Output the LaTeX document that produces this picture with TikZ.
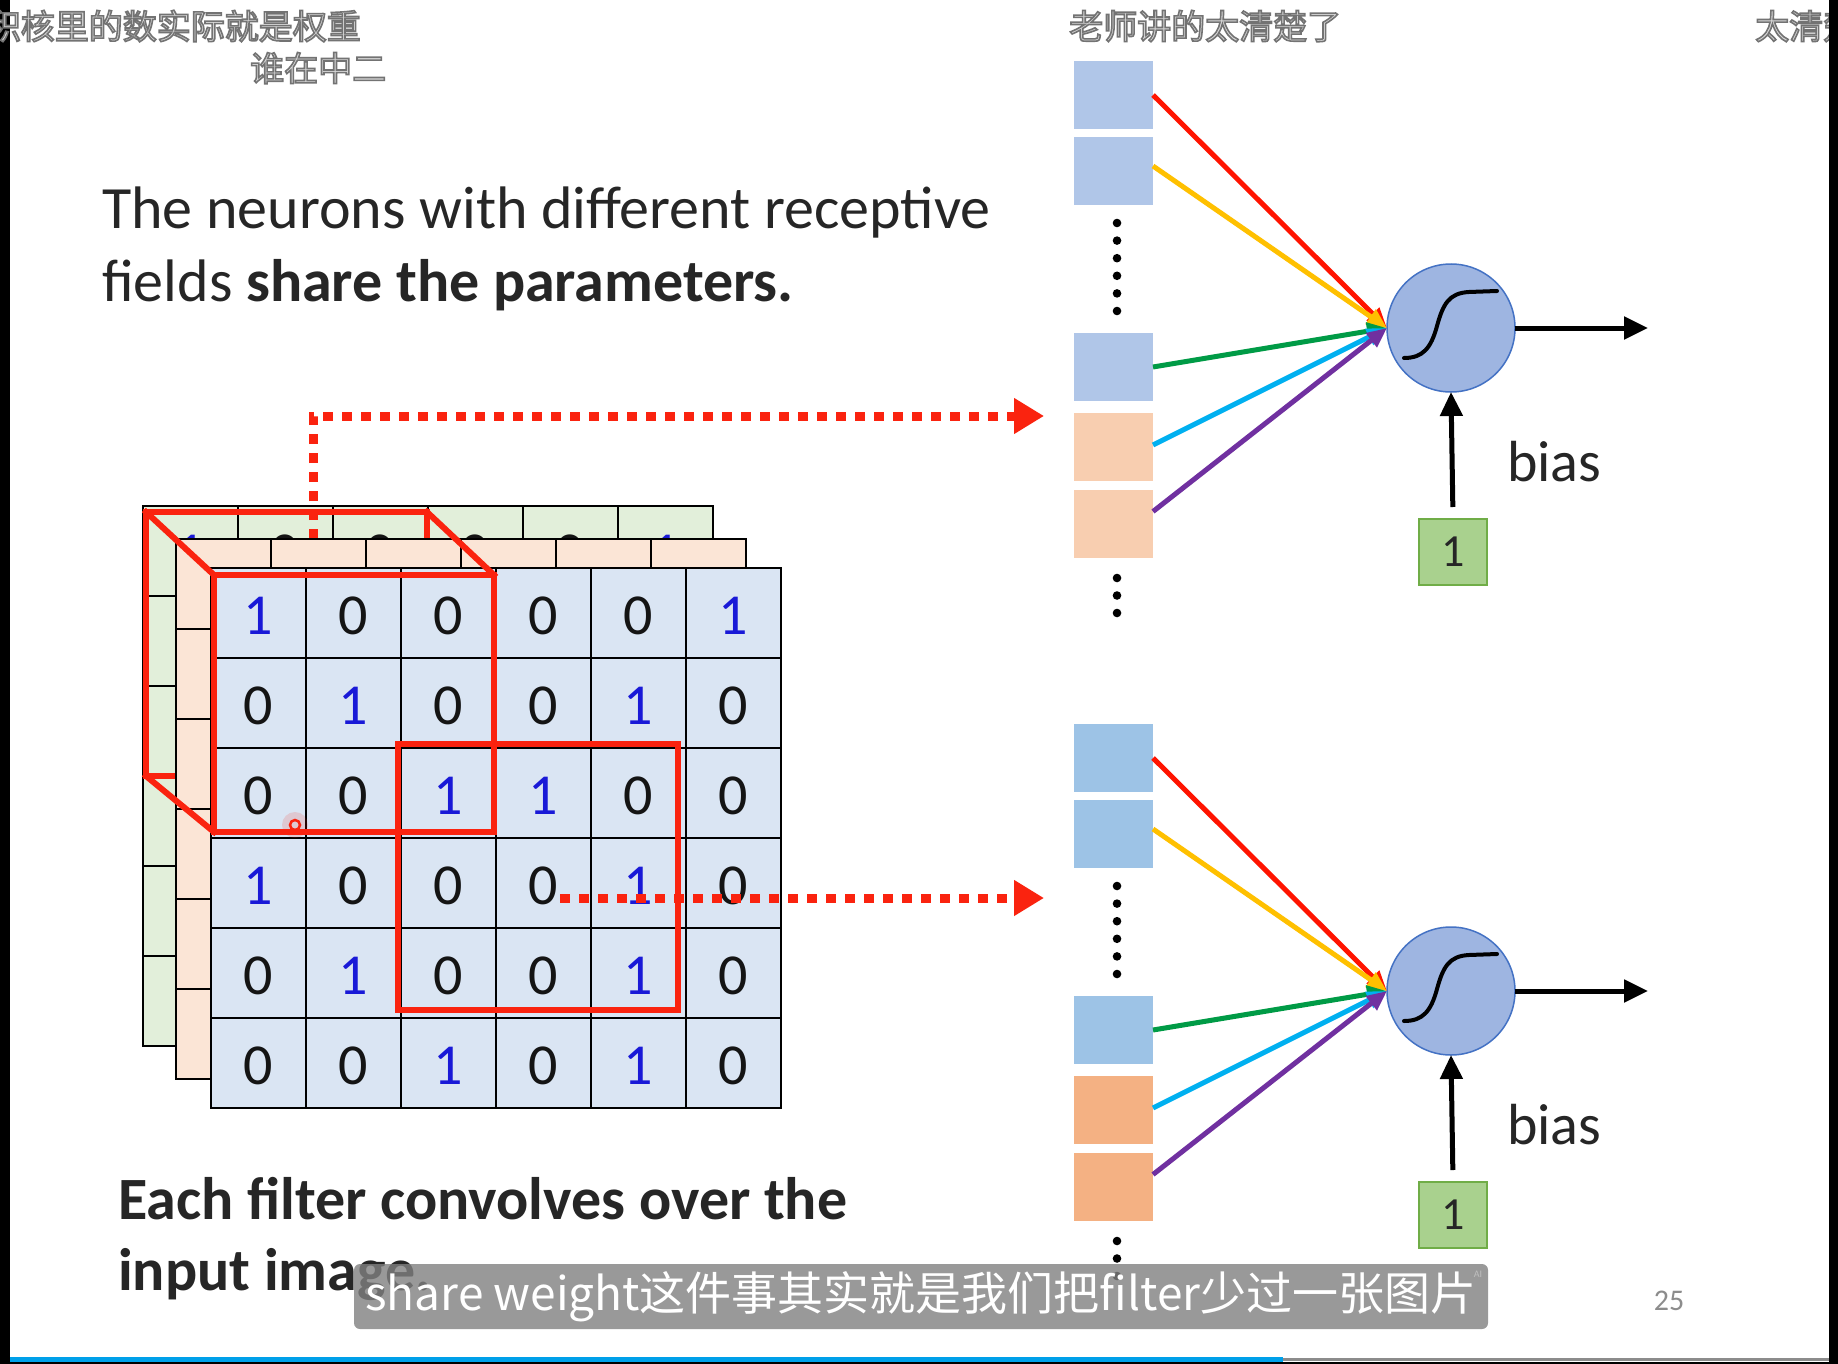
\documentclass[tikz,border=0pt]{standalone}
\usepackage{fontspec}
\setmainfont{Carlito}
\newfontfamily\cjk{Noto Sans CJK SC}
\usetikzlibrary{arrows.meta,calc}
\definecolor{txt}{RGB}{38,38,38}
\definecolor{digc0}{RGB}{20,20,20}
\definecolor{digc1}{RGB}{25,25,215}
\definecolor{fblue}{RGB}{218,229,243}
\definecolor{forange}{RGB}{251,229,214}
\definecolor{fgreen}{RGB}{226,239,218}
\definecolor{rf}{RGB}{250,35,15}
\definecolor{sqbA}{RGB}{176,198,232}
\definecolor{sqoA}{RGB}{248,206,176}
\definecolor{sqbB}{RGB}{157,195,230}
\definecolor{sqoB}{RGB}{244,177,131}
\definecolor{nfill}{RGB}{158,181,225}
\definecolor{nborder}{RGB}{68,114,196}
\definecolor{bfill}{RGB}{169,209,142}
\definecolor{bborder}{RGB}{112,173,71}
\definecolor{cred}{RGB}{255,20,0}
\definecolor{cyel}{RGB}{255,192,0}
\definecolor{cgrn}{RGB}{0,155,70}
\definecolor{ccya}{RGB}{0,176,240}
\definecolor{cpur}{RGB}{112,48,160}
\definecolor{pbar}{RGB}{0,160,233}
\definecolor{pgnum}{RGB}{140,140,140}
\newcommand\dmk[1]{\special{pdf:literal direct 2 Tr 1.6 w 0.45 0.45 0.45 RG}#1\special{pdf:literal direct 0 Tr}}
\newcommand\gridlayer[3]{%
  \fill[#3] (#1,#2) rectangle ++(570,540);
  \foreach \i in {0,...,6} {
    \draw[gridline] ({#1+95*\i},#2) -- ++(0,540);
    \draw[gridline] (#1,{#2+90*\i}) -- ++(570,0);
  }
}
\begin{document}
\begin{tikzpicture}[x=1pt,y=-1pt,
  gridline/.style={draw=black, line width=2.2pt, line cap=rect},
  dig/.style={text=digc#1, font=\fontsize{58}{60}\selectfont, inner sep=0pt},
  redbox/.style={draw=rf, line width=6pt, line join=miter, line cap=rect},
  dotarrow/.style={draw=rf, line width=9pt, dash pattern=on 10pt off 9pt, -{Triangle[length=30pt,width=34pt]}},
  sqnode/.style={minimum width=79pt, minimum height=68pt, inner sep=0pt, outer sep=0pt},
  neuron/.style={circle, fill=nfill, draw=nborder, line width=1.5pt, minimum size=128pt, inner sep=0pt, outer sep=0pt},
  onebox/.style={fill=bfill, draw=bborder, line width=2pt, minimum width=68pt, minimum height=66pt, inner sep=0pt, font=\fontsize{46}{46}\selectfont, text=txt},
  inarrow/.style={line width=5pt, -{Triangle[length=20pt,width=17pt]}},
  blkarrow/.style={draw=black, line width=5pt, -{Triangle[length=24pt,width=22pt]}},
  sigm/.style={draw=black, line width=4pt, line cap=round},
  slide/.style={text=txt, font=\fontsize{60}{72}\selectfont, anchor=base west, inner sep=0pt},
  biastext/.style={text=txt, font=\fontsize{58}{60}\selectfont, anchor=base west, inner sep=0pt},
  dmtext/.style={text=white!85!black, font=\cjk\fontsize{34}{34}\selectfont, inner sep=0pt},
]
\useasboundingbox (0,0) rectangle (1838,1364);
\fill[white] (0,0) rectangle (1838,1364);
\fill[black] (0,0) rectangle (10,1364);

% back (green) layer
\gridlayer{143}{506}{fgreen}
\foreach \v [count=\c from 0] in {1,0,0,0,0,1}
  \node[dig=\v] (g-0-\c) at ({143+95*\c+47.5},554) {\v};
% red back face
\draw[redbox] (146,512) rectangle (427,776);
% dotted arrow A
\coordinate (dA) at (313,539);
\coordinate (dAc) at (313,416);
\coordinate (tA) at (1044,416);
\draw[dotarrow] (dA) -- (dAc) -- (tA);

% middle (orange) layer
\gridlayer{176}{539}{forange}

% front (blue) layer
\gridlayer{211}{568}{fblue}
\foreach \row [count=\r from 0] in {{1,0,0,0,0,1},{0,1,0,0,1,0},{0,0,1,1,0,0},{1,0,0,0,1,0},{0,1,0,0,1,0},{0,0,1,0,1,0}} {
  \foreach \v [count=\c from 0] in \row
    \node[dig=\v] (f-\r-\c) at ({211+95*\c+47.5},{568+90*\r+48}) {\v};
}

% red receptive field cube
\draw[redbox] (146,512) -- (214,575);
\draw[redbox] (427,512) -- (494,575);
\draw[redbox] (146,776) -- (214,832);
\draw[redbox] (214,575) rectangle (494,832);
% second receptive field
\draw[redbox] (398,744) rectangle (678,1010);
% pointer mark
\fill[rf, opacity=0.15] (295,825) circle (13pt);
\draw[rf, line width=2.5pt] (295,825) circle (5pt);

% dotted arrow B
\coordinate (dB) at (560,898);
\coordinate (tB) at (1044,898);
\draw[dotarrow] (dB) -- (tB);

% neurons
\foreach \p/\dy/\cb/\co in {u/0/sqbA/sqoA, l/663/sqbB/sqoB} {
  \node[sqnode, fill=\cb] (\p1) at (1113.5,{95+\dy}) {};
  \node[sqnode, fill=\cb] (\p2) at (1113.5,{171+\dy}) {};
  \node[sqnode, fill=\cb] (\p3) at (1113.5,{367+\dy}) {};
  \node[sqnode, fill=\co] (\p4) at (1113.5,{447+\dy}) {};
  \node[sqnode, fill=\co] (\p5) at (1113.5,{523.5+\dy}) {};
  \foreach \k in {0,...,5} \fill[black] (1117,{223+17.6*\k+\dy}) circle (4.3pt);
  \foreach \k in {0,1,2} \fill[black] (1117,{578+17.5*\k+\dy}) circle (4.3pt);
  \node[neuron] (\p n) at (1451,{328+\dy}) {};
  \draw[sigm] ($(\p n)+(-47,30)$) .. controls ($(\p n)+(-28,30)$) and ($(\p n)+(-20,20)$) .. ($(\p n)+(-14,-2)$) .. controls ($(\p n)+(-8,-24)$) and ($(\p n)+(-2,-35)$) .. ($(\p n)+(18,-36)$) -- ($(\p n)+(46,-37)$);
  \draw[inarrow, cred] (\p1.east) -- (\p n.west);
  \draw[inarrow, cyel] ([yshift=5pt]\p2.east) -- (\p n.west);
  \draw[inarrow, cgrn] (\p3.east) -- (\p n.west);
  \draw[inarrow, ccya] ([yshift=2pt]\p4.east) -- (\p n.west);
  \draw[inarrow, cpur] ([yshift=12pt]\p5.east) -- (\p n.west);
  \coordinate (\p o) at (1648,{328+\dy});
  \draw[blkarrow] (\p n.east) -- (\p o);
  \node[onebox] (\p b) at (1453,{552+\dy}) {1};
  \draw[blkarrow, shorten <=11pt] (\p b.north) -- (\p n.south);
  \node[biastext] (\p t) at (1507,{481+\dy}) {bias};
}

% slide texts
\node[slide] (t1) at (102,229) {The neurons with different receptive};
\node[slide] (t2) at (102,301) {fields \textbf{share the parameters.}};
\node[slide] (t3) at (118,1219) {\textbf{Each filter convolves over the}};
\node[slide] (t4) at (118,1290) {\textbf{input image.}};
\node[text=pgnum, font=\fontsize{30}{30}\selectfont] (pg) at (1669,1301) {25};

% subtitle
\node[fill=black!50, fill opacity=0.8, text opacity=1, text=white, rounded corners=6pt,
      minimum width=1134pt, minimum height=65pt, inner sep=0pt,
      font=\cjk\fontsize{46}{46}\selectfont] (sb) at (921,1296.5) {share weight这件事其实就是我们把filter少过一张图片};
\node[text=white!75!black, font=\fontsize{10}{10}\selectfont, inner sep=0pt] (ai) at (1478,1274) {AI};

% danmaku
\node[dmtext, anchor=base east] (dm1) at (361,39) {\dmk{积核里的数实际就是权重}};
\node[dmtext, anchor=base west] (dm2) at (250,81) {\dmk{谁在中二}};
\node[dmtext, anchor=base west] (dm3) at (1069,39) {\dmk{老师讲的太清楚了}};
\node[dmtext, anchor=base west] (dm4) at (1755,39) {\dmk{太清楚}};

\fill[black] (1829,0) rectangle (1838,1364);
\fill[pbar] (10,1357) rectangle (1283,1362);
\fill[black!45] (1283,1358) rectangle (1829,1361);
\fill[black] (0,1362) rectangle (1838,1364);
\end{tikzpicture}
\end{document}
